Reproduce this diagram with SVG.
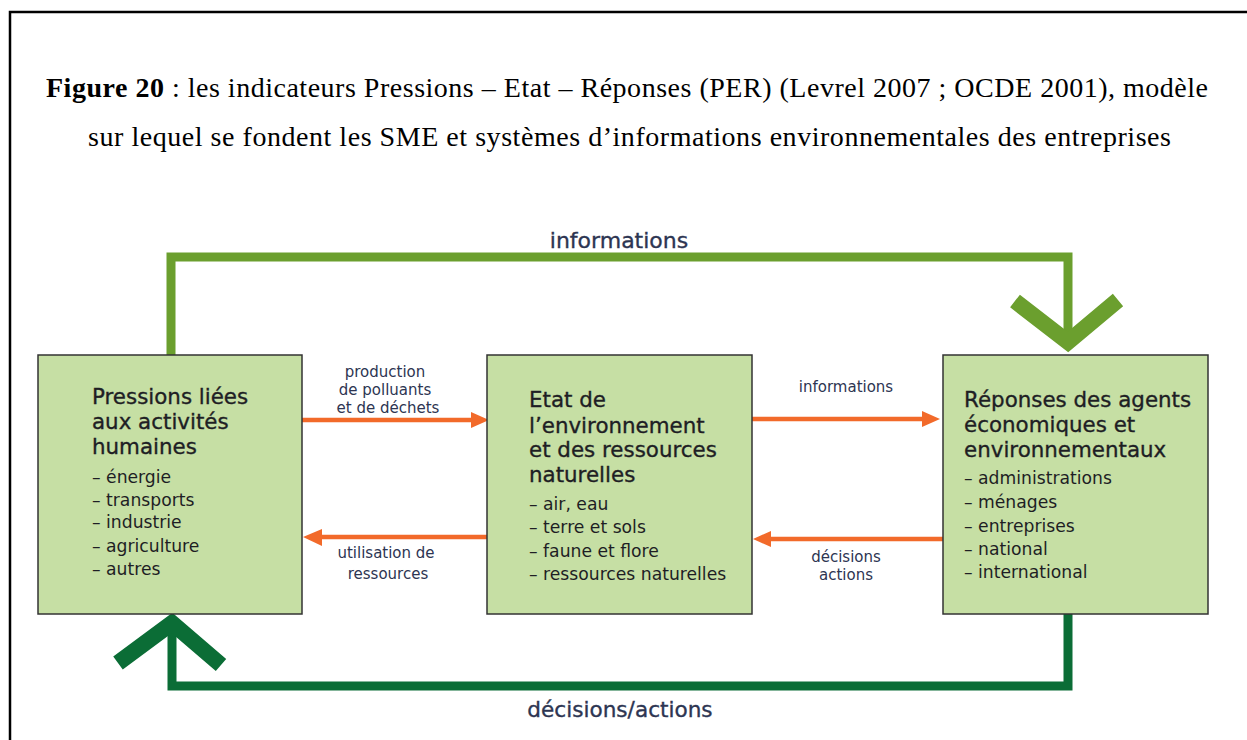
<svg xmlns="http://www.w3.org/2000/svg" width="1247" height="740" viewBox="0 0 1247 740">
<style>
.title{font-family:"Liberation Serif","Times New Roman",serif;font-size:28px;fill:#000}
.box{fill:#c6dfa4;stroke:#333;stroke-width:1.5}
.head{font-family:"DejaVu Sans","Noto Sans",sans-serif;font-size:21.4px;fill:#1e1e24;stroke:#1e1e24;stroke-width:0.35}
.item{font-family:"DejaVu Sans","Noto Sans",sans-serif;font-size:17.2px;fill:#1e1e24}
.lbl{font-family:"DejaVu Sans","Noto Sans",sans-serif;font-size:15px;fill:#2d3552;text-anchor:middle}
.big{font-family:"DejaVu Sans","Noto Sans",sans-serif;font-size:21.6px;fill:#2d3552;stroke:#2d3552;stroke-width:0.35;text-anchor:middle}
.or{stroke:#f26a2a;stroke-width:4.5;fill:none}
.orh{fill:#f26a2a}
.lg{stroke:#6b9f2e;fill:none}
.dg{stroke:#0b6d36;fill:none}
.ln{stroke-width:9}
.chev{stroke-width:16;stroke-linejoin:miter;stroke-miterlimit:10}
</style>
<rect width="1247" height="740" fill="#fff"/>
<g id="frame">
<path d="M10,740 V12 H1247" fill="none" stroke="#000" stroke-width="2.5"/>
</g>
<g id="caption">
<text class="title" x="46" y="97" textLength="1162" lengthAdjust="spacing"><tspan font-weight="bold">Figure 20</tspan> : les indicateurs Pressions – Etat – Réponses (PER) (Levrel 2007 ; OCDE 2001), modèle</text>
<text class="title" x="88" y="146" textLength="1083" lengthAdjust="spacing">sur lequel se fondent les SME et systèmes d’informations environnementales des entreprises</text>
</g>
<g id="connectors">
<path class="lg ln" d="M171,355 V257 H1068 V342"/>
<polyline class="lg chev" points="1015,301 1068,342 1118,300"/>
<path class="dg ln" d="M1068,614 V686 H172 V622"/>
<polyline class="dg chev" points="118,663 172,623 221,665"/>
<line class="or" x1="302" y1="420" x2="473" y2="420"/>
<polygon class="orh" points="489,420 471,412 471,428"/>
<line class="or" x1="490" y1="537" x2="320" y2="537"/>
<polygon class="orh" points="303,537 322,529 322,546"/>
<line class="or" x1="752" y1="419" x2="924" y2="419"/>
<polygon class="orh" points="940,419 922,411 922,427"/>
<line class="or" x1="943" y1="539" x2="770" y2="539"/>
<polygon class="orh" points="753,539 771,531 771,547"/>
<text class="big" x="619" y="248" style="font-size:22px">informations</text>
<text class="big" x="620" y="717">décisions/actions</text>
<text class="lbl" x="385" y="377">production</text>
<text class="lbl" x="385" y="395">de polluants</text>
<text class="lbl" x="388" y="413">et de déchets</text>
<text class="lbl" x="386" y="558">utilisation de</text>
<text class="lbl" x="388" y="579">ressources</text>
<text class="lbl" x="846" y="392">informations</text>
<text class="lbl" x="846" y="562">décisions</text>
<text class="lbl" x="846" y="580">actions</text>
</g>
<g id="node-pressions">
<rect class="box" x="38" y="355" width="264" height="259"/>
<text class="head" x="92" y="404">Pressions liées</text>
<text class="head" x="92" y="429">aux activités</text>
<text class="head" x="92" y="454">humaines</text>
<text class="item" x="92" y="483">– énergie</text>
<text class="item" x="92" y="506">– transports</text>
<text class="item" x="92" y="528">– industrie</text>
<text class="item" x="92" y="552">– agriculture</text>
<text class="item" x="92" y="575">– autres</text>
</g>
<g id="node-etat">
<rect class="box" x="487" y="355" width="265" height="259"/>
<text class="head" x="529" y="407">Etat de</text>
<text class="head" x="529" y="433">l’environnement</text>
<text class="head" x="529" y="457">et des ressources</text>
<text class="head" x="529" y="482">naturelles</text>
<text class="item" x="529" y="510">– air, eau</text>
<text class="item" x="529" y="533">– terre et sols</text>
<text class="item" x="529" y="557">– faune et flore</text>
<text class="item" x="529" y="580">– ressources naturelles</text>
</g>
<g id="node-reponses">
<rect class="box" x="943" y="355" width="265" height="259"/>
<text class="head" x="964" y="407">Réponses des agents</text>
<text class="head" x="964" y="432">économiques et</text>
<text class="head" x="964" y="457">environnementaux</text>
<text class="item" x="964" y="484">– administrations</text>
<text class="item" x="964" y="508">– ménages</text>
<text class="item" x="964" y="532">– entreprises</text>
<text class="item" x="964" y="555">– national</text>
<text class="item" x="964" y="578">– international</text>
</g>
</svg>
